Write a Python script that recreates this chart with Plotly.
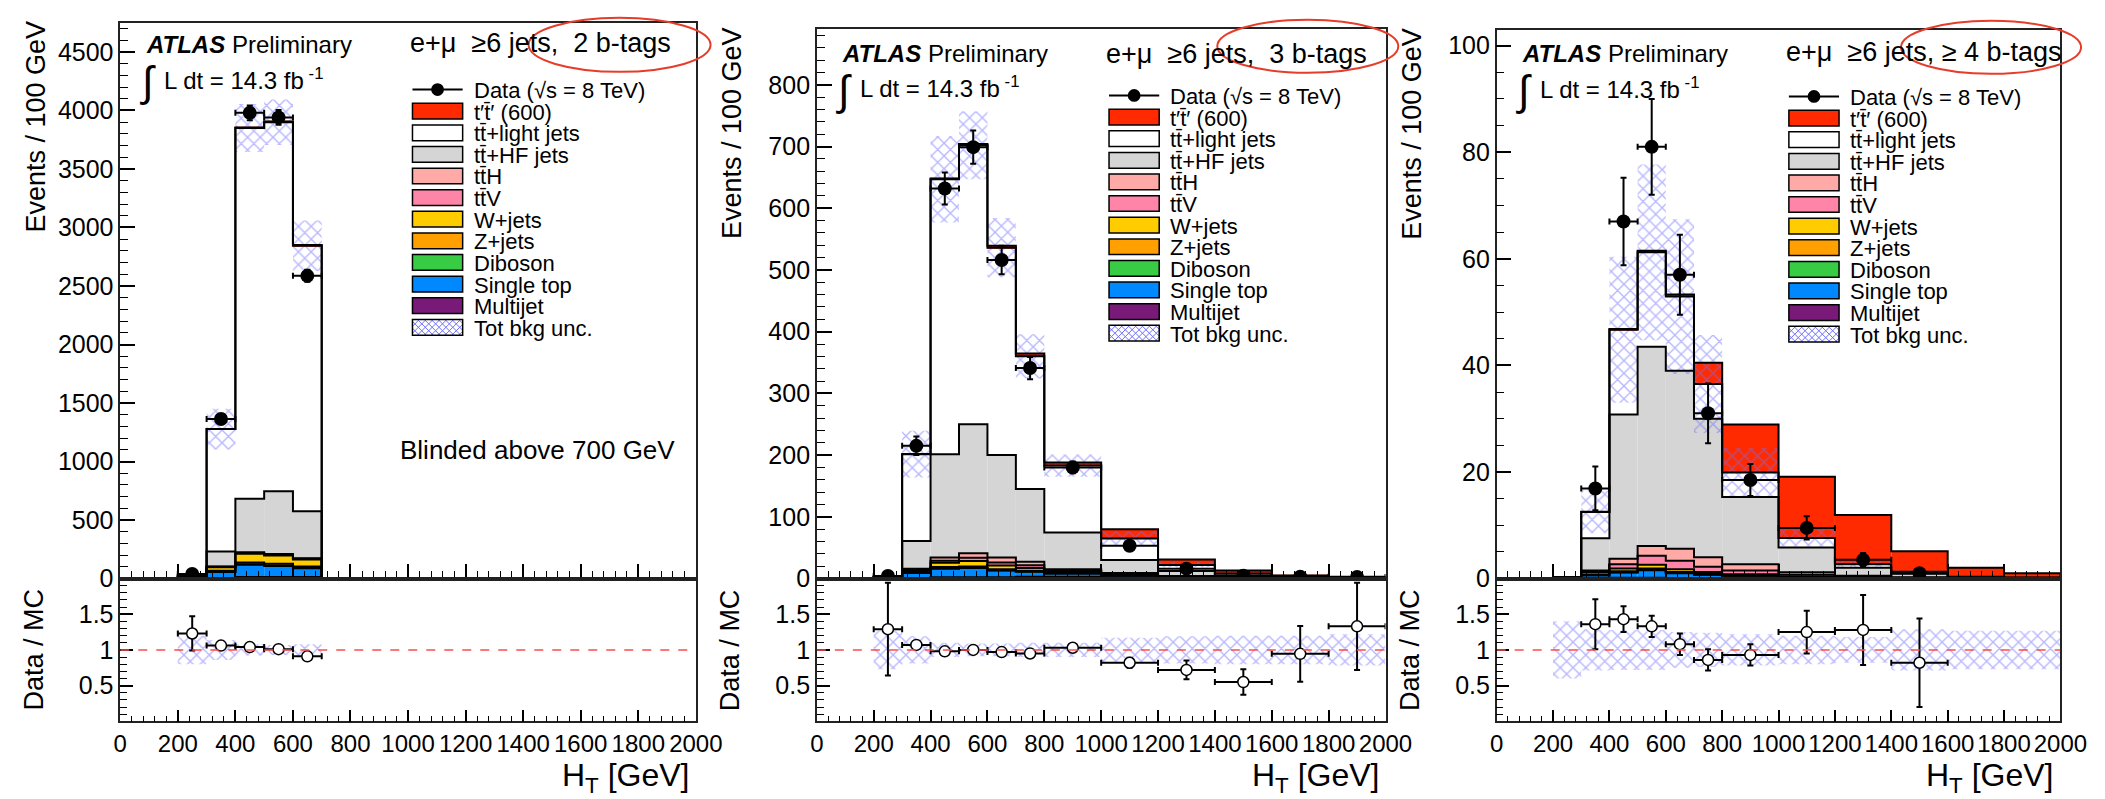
import plotly.graph_objects as go

W, H = 2105, 799
FONT = "Liberation Sans"

# ---------------- data (events / 100 GeV) ----------------
edges_2b = [200, 300, 400, 500, 600, 700]
edges_3b = [200, 300, 400, 500, 600, 700, 800, 1000, 1200, 1400, 1600, 1800, 2000]
edges_4b = [200, 300, 400, 500, 600, 700, 800, 1000, 1200, 1400, 1600, 1800, 2000]

# 2 b-tags
multijet_2b = [1, 5, 12, 12, 12]
singletop_2b = [6, 50, 105, 95, 75]
diboson_2b = [0.5, 2, 4, 4, 3]
zjets_2b = [1, 10, 16, 16, 13]
wjets_2b = [3, 30, 75, 70, 60]
ttv_2b = [0.3, 3, 7, 7, 6]
tth_2b = [0.2, 2, 5, 5, 4]
tthf_2b = [10, 130, 458, 537, 403]
ttlight_2b = [10, 1045, 3169, 3154, 2268]
tprime_2b = [0, 1, 3, 5, 6]
unc_2b = [7, 175, 205, 195, 215]
data_2b = [39, 1364, 3980, 3941, 2587]
data_err_2b = [6, 37, 63, 63, 51]
ratio_2b = [1.23, 1.06, 1.04, 1.01, 0.91]
ratio_err_2b = [0.24, 0.03, 0.02, 0.02, 0.02]
ratio_unc_2b = [0.2, 0.14, 0.08, 0.07, 0.08]

# 3 b-tags
multijet_3b = [0.2, 1, 2, 2, 2, 3, 3, 2, 1, 0.4, 0.2, 0.1]
singletop_3b = [0.8, 8, 14, 15, 11, 8, 5, 3, 1.2, 0.6, 0.3, 0.2]
diboson_3b = [0.05, 0.3, 0.5, 0.5, 0.4, 0.3, 0.2, 0.1, 0.05, 0.02, 0.01, 0.01]
zjets_3b = [0.1, 1.2, 2, 2, 1.6, 1.2, 0.8, 0.4, 0.2, 0.1, 0.05, 0.03]
wjets_3b = [0.25, 3.5, 7, 9, 6, 4.5, 2.5, 1.2, 0.5, 0.3, 0.15, 0.1]
ttv_3b = [0.05, 1, 3.5, 5, 5, 4.5, 1.8, 1, 0.5, 0.25, 0.1, 0.06]
tth_3b = [0.05, 1, 5, 7.5, 8, 5.5, 1.7, 1.3, 0.55, 0.33, 0.19, 0.1]
tthf_3b = [1.0, 45, 167.5, 209, 166, 118, 59.5, 21, 8, 3, 1.2, 0.7]
ttlight_3b = [0.6, 140.5, 445.5, 452, 336, 215, 108.5, 35, 10, 3.2, 0.9, 0.55]
tprime_3b = [0.02, 0.3, 1, 2, 3, 4.5, 5, 15, 9, 5, 2, 1]
unc_3b = [0.8, 38, 70, 55, 48, 36, 18, 11, 4.2, 1.6, 0.6, 0.4]
data_3b = [4, 215, 632, 699, 516, 341, 180, 53, 16, 4.5, 3, 2.5]
data_err_3b = [2, 15, 26, 27, 23, 18, 9.5, 5.1, 2.8, 1.5, 1.2, 1.1]
ratio_3b = [1.29, 1.07, 0.98, 1.0, 0.97, 0.95, 1.03, 0.82, 0.72, 0.55, 0.945, 1.33]
ratio_err_3b = [0.65, 0.05, 0.04, 0.04, 0.04, 0.05, 0.05, 0.07, 0.13, 0.18, 0.39, 0.61]
ratio_unc_3b = [0.27, 0.19, 0.1, 0.09, 0.09, 0.1, 0.1, 0.17, 0.19, 0.2, 0.2, 0.22]

# >= 4 b-tags
multijet_4b = [0.01, 0.1, 0.15, 0.15, 0.1, 0.1, 0.1, 0.05, 0.02, 0.01, 0, 0]
singletop_4b = [0.04, 0.5, 1.0, 1.4, 0.9, 0.6, 0.4, 0.2, 0.08, 0.04, 0.01, 0.01]
diboson_4b = [0, 0.02, 0.03, 0.04, 0.03, 0.02, 0.01, 0.01, 0, 0, 0, 0]
zjets_4b = [0.01, 0.15, 0.2, 0.3, 0.2, 0.15, 0.1, 0.04, 0.02, 0.01, 0, 0]
wjets_4b = [0.02, 0.4, 0.5, 0.7, 0.5, 0.35, 0.2, 0.1, 0.05, 0.02, 0.01, 0]
ttv_4b = [0.01, 0.15, 0.8, 1.7, 1.6, 1.0, 0.7, 0.3, 0.13, 0.06, 0.01, 0.01]
tth_4b = [0.01, 0.18, 1.02, 1.81, 2.27, 1.78, 1.19, 0.5, 0.2, 0.11, 0.02, 0.01]
tthf_4b = [0.1, 6.05, 27.1, 37.4, 33.4, 26, 12.6, 4.6, 1.5, 0.65, 0.2, 0.12]
ttlight_4b = [0.1, 4.95, 15.9, 17.7, 13.9, 6.5, 4.6, 1.8, 0.7, 0.35, 0.1, 0.05]
tprime_4b = [0, 0.02, 0.1, 0.3, 0.4, 4, 9, 11.5, 9.2, 3.85, 1.65, 0.8]
unc_4b = [0.12, 4.0, 13.7, 16.5, 14.5, 9.2, 4.6, 1.6, 0.5, 0.36, 0.1, 0.05]
data_4b = [None, 16.9, 67, 81, 57, 31, 18.5, 9.5, 3.5, 1.0, None, None]
data_err_4b = [0, 4.1, 8.2, 9, 7.5, 5.6, 3, 2.2, 1.3, 0.7, 0, 0]
ratio_4b = [None, 1.36, 1.43, 1.33, 1.08, 0.86, 0.93, 1.25, 1.28, 0.82, None, None]
ratio_err_4b = [0, 0.35, 0.18, 0.15, 0.15, 0.15, 0.15, 0.3, 0.49, 0.62, 0, 0]
ratio_unc_4b = [0.4, 0.29, 0.28, 0.28, 0.25, 0.24, 0.22, 0.2, 0.18, 0.29, 0.27, 0.27]

x_tick_vals = [0, 200, 400, 600, 800, 1000, 1200, 1400, 1600, 1800, 2000]
x_tick_text = ['0', '200', '400', '600', '800', '1000', '1200', '1400', '1600', '1800', '2000']
ratio_tick_vals = [0.5, 1, 1.5]
ratio_tick_text = ['0.5', '1', '1.5']

channel_labels = ["e+\u03bc\u00a0\u00a0\u22656 jets,\u00a0\u00a02 b-tags",
                  "e+\u03bc\u00a0\u00a0\u22656 jets,\u00a0\u00a03 b-tags",
                  "e+\u03bc\u00a0\u00a0\u22656 jets,\u00a0\u2265 4 b-tags"]
legend_labels = ["Data (\u221as = 8 TeV)", "t\u2032t\u0304\u2032 (600)", "tt\u0304+light jets",
                 "tt\u0304+HF jets", "tt\u0304H", "tt\u0304V", "W+jets", "Z+jets", "Diboson",
                 "Single top", "Multijet", "Tot bkg unc."]

# ---------------- styles ----------------
# stacking order, bottom -> top
comp_colors = ['#7a1a78', '#0088ff', '#38cc44', '#ffa000', '#ffcc00',
               '#ff85a8', '#ffaaa6', '#d5d5d5', '#ffffff', '#ff2a00']
legend_colors = ['#ff2a00', '#ffffff', '#d5d5d5', '#ffaaa6', '#ff85a8',
                 '#ffcc00', '#ffa000', '#38cc44', '#0088ff', '#7a1a78']
HATCH = '#6f6fff'

panels = [
    dict(edges=edges_2b,
         comps=[multijet_2b, singletop_2b, diboson_2b, zjets_2b, wjets_2b, ttv_2b, tth_2b, tthf_2b, ttlight_2b, tprime_2b],
         unc=unc_2b, data=data_2b, derr=data_err_2b, ratio=ratio_2b, rerr=ratio_err_2b, runc=ratio_unc_2b,
         l=107, r=692, t=15, ymax=4750, dt=500, mdt=100,
         atl_dy=22, lumi_dy=57, int_dy=59.5, chan_dy=21),
    dict(edges=edges_3b,
         comps=[multijet_3b, singletop_3b, diboson_3b, zjets_3b, wjets_3b, ttv_3b, tth_3b, tthf_3b, ttlight_3b, tprime_3b],
         unc=unc_3b, data=data_3b, derr=data_err_3b, ratio=ratio_3b, rerr=ratio_err_3b, runc=ratio_unc_3b,
         l=815, r=1393, t=21, ymax=891, dt=100, mdt=20,
         atl_dy=25.5, lumi_dy=59, int_dy=63, chan_dy=25.5),
    dict(edges=edges_4b,
         comps=[multijet_4b, singletop_4b, diboson_4b, zjets_4b, wjets_4b, ttv_4b, tth_4b, tthf_4b, ttlight_4b, tprime_4b],
         unc=unc_4b, data=data_4b, derr=data_err_4b, ratio=ratio_4b, rerr=ratio_err_4b, runc=ratio_unc_4b,
         l=1506, r=2079, t=22, ymax=103, dt=20, mdt=5,
         atl_dy=24, lumi_dy=59.5, int_dy=62, chan_dy=23),
]
MAIN_BOT = 580.7
RATIO_BOT = 726


def px(x):
    return x / W


def py(y):
    return 1 - y / H


HATCH_PATTERN = dict(shape='x', fgcolor=HATCH, bgcolor='rgba(0,0,0,0)', size=9, solidity=0.28,
                     fillmode='overlay')

fig = go.Figure()
shapes = []
annotations = []
layout_axes = {}

for i, p in enumerate(panels):
    edges = p['edges']
    n = len(edges) - 1
    centers = [(edges[k] + edges[k + 1]) / 2 for k in range(n)]
    widths = [edges[k + 1] - edges[k] for k in range(n)]
    halfw = [w / 2 for w in widths]
    sfx_m = '' if i == 0 else str(i + 1)
    sfx_r = str(i + 4)
    xm, ym, xr, yr = 'x' + sfx_m, 'y' + sfx_m, 'x' + sfx_r, 'y' + sfx_r

    # ---- stacked histogram ----
    cum = [0.0] * n
    levels = []
    for comp, col in zip(p['comps'], comp_colors):
        fig.add_trace(go.Bar(x=centers, y=comp, base=list(cum), width=widths,
                             marker=dict(color=col, line=dict(width=0)),
                             xaxis=xm, yaxis=ym, hoverinfo='skip'))
        cum = [c + v for c, v in zip(cum, comp)]
        levels.append(list(cum))
    for lev in levels:
        fig.add_trace(go.Scatter(x=[edges[0]] + edges[:-1] + [edges[-1]], y=[0] + lev + [0],
                                 mode='lines', line=dict(color='black', width=2, shape='hv'),
                                 xaxis=xm, yaxis=ym, hoverinfo='skip'))
    total = levels[-2]
    fig.add_trace(go.Bar(x=centers, y=[2 * u for u in p['unc']],
                         base=[t - u for t, u in zip(total, p['unc'])], width=widths,
                         marker=dict(color='rgba(0,0,0,0)', line=dict(width=0), pattern=HATCH_PATTERN),
                         xaxis=xm, yaxis=ym, hoverinfo='skip'))
    fig.add_trace(go.Scatter(x=centers, y=p['data'], mode='markers',
                             marker=dict(color='black', size=14),
                             error_x=dict(type='data', array=halfw, color='black', thickness=2, width=3),
                             error_y=dict(type='data', array=p['derr'], color='black', thickness=2, width=3),
                             xaxis=xm, yaxis=ym, hoverinfo='skip'))

    # ---- ratio ----
    fig.add_trace(go.Bar(x=centers, y=[2 * u for u in p['runc']], base=[1 - u for u in p['runc']],
                         width=widths,
                         marker=dict(color='rgba(0,0,0,0)', line=dict(width=0), pattern=HATCH_PATTERN),
                         xaxis=xr, yaxis=yr, hoverinfo='skip'))
    shapes.append(dict(type='line', xref=xr, yref=yr, x0=0, x1=2000, y0=1, y1=1,
                       line=dict(color='#ff4c4c', width=1.5, dash='dash'), layer='above'))
    fig.add_trace(go.Scatter(x=centers, y=p['ratio'], mode='markers',
                             marker=dict(color='white', size=11, line=dict(color='black', width=1.5)),
                             error_x=dict(type='data', array=halfw, color='black', thickness=2, width=3),
                             error_y=dict(type='data', array=p['rerr'], color='black', thickness=2, width=3),
                             xaxis=xr, yaxis=yr, hoverinfo='skip'))

    # ---- axes ----
    l, r, t = p['l'], p['r'], p['t']
    dom_x = [px(l), px(r)]
    tickfont = dict(family=FONT, size=25, color='black')
    frame = dict(showline=True, linecolor='#222222', linewidth=1.5, mirror=True,
                 showgrid=False, zeroline=False)
    layout_axes['xaxis' + sfx_m] = dict(domain=dom_x, range=[0, 2000], anchor=ym, showticklabels=False,
                                        ticks='inside', tick0=0, dtick=200, ticklen=15, tickwidth=1.5,
                                        tickcolor='black',
                                        minor=dict(ticks='inside', dtick=40, ticklen=8, tickwidth=1,
                                                   tickcolor='black'), **frame)
    layout_axes['yaxis' + sfx_m] = dict(domain=[py(MAIN_BOT), py(t)], range=[0, p['ymax']], anchor=xm,
                                        ticks='inside', tick0=0, dtick=p['dt'], ticklen=15, tickwidth=1.5,
                                        tickcolor='black', tickfont=tickfont,
                                        minor=dict(ticks='inside', dtick=p['mdt'], ticklen=8, tickwidth=1,
                                                   tickcolor='black'), **frame)
    layout_axes['xaxis' + sfx_r] = dict(domain=dom_x, range=[0, 2000], anchor=yr,
                                        tickmode='array', tickvals=x_tick_vals, ticktext=x_tick_text,
                                        tickangle=0, ticks='inside', ticklen=12, tickwidth=1.5,
                                        tickcolor='black', tickfont=dict(family=FONT, size=24, color='black'),
                                        minor=dict(ticks='inside', tickmode='linear', tick0=0, dtick=40,
                                                   ticklen=6, tickwidth=1, tickcolor='black'), **frame)
    layout_axes['yaxis' + sfx_r] = dict(domain=[py(RATIO_BOT), py(MAIN_BOT)], range=[0, 2], anchor=xr,
                                        tickmode='array', tickvals=ratio_tick_vals, ticktext=ratio_tick_text,
                                        ticks='inside', ticklen=13, tickwidth=1.5, tickcolor='black',
                                        tickfont=tickfont,
                                        minor=dict(ticks='inside', tickmode='linear', tick0=0, dtick=0.1,
                                                   ticklen=7, tickwidth=1, tickcolor='black'), **frame)

    # ---- axis titles ----
    annotations.append(dict(xref='paper', yref='paper', x=px(l - 86), y=py(t + 106),
                            text='Events / 100 GeV', textangle=-90, showarrow=False,
                            xanchor='center', yanchor='middle', font=dict(family=FONT, size=27, color='black')))
    annotations.append(dict(xref='paper', yref='paper', x=px(l - 88), y=py((MAIN_BOT + RATIO_BOT) / 2),
                            text='Data / MC', textangle=-90, showarrow=False,
                            xanchor='center', yanchor='middle', font=dict(family=FONT, size=27, color='black')))
    annotations.append(dict(xref='paper', yref='paper', x=px(r - 4), y=py(783),
                            text='H<sub>T</sub> [GeV]', showarrow=False,
                            xanchor='right', yanchor='middle', font=dict(family=FONT, size=32, color='black')))

    # ---- labels ----
    annotations.append(dict(xref='paper', yref='paper', x=px(l + 24), y=py(t + p['atl_dy']),
                            text='<b><i>ATLAS</i></b> Preliminary', showarrow=False,
                            xanchor='left', yanchor='middle', font=dict(family=FONT, size=24, color='black')))
    annotations.append(dict(xref='paper', yref='paper', x=px(l + 28), y=py(t + p['int_dy']),
                            text='\u222b', showarrow=False,
                            xanchor='center', yanchor='middle', font=dict(family=FONT, size=42, color='black')))
    annotations.append(dict(xref='paper', yref='paper', x=px(l + 42), y=py(t + p['lumi_dy']),
                            text='L dt = 14.3 fb<sup> -1</sup>', showarrow=False,
                            xanchor='left', yanchor='middle', font=dict(family=FONT, size=24, color='black')))
    annotations.append(dict(xref='paper', yref='paper', x=px(l + 292), y=py(t + p['chan_dy']),
                            text=channel_labels[i], showarrow=False,
                            xanchor='left', yanchor='middle', font=dict(family=FONT, size=27, color='black')))

    # ---- legend ----
    lx = l + 297
    ly0 = t + 68
    pitch = 22
    for k, lab in enumerate(legend_labels):
        yc = ly0 + k * pitch
        annotations.append(dict(xref='paper', yref='paper', x=px(lx + 60), y=py(yc + 1),
                                text=lab, showarrow=False, xanchor='left', yanchor='middle',
                                font=dict(family=FONT, size=22, color='black')))
        if k == 0:
            shapes.append(dict(type='line', xref='paper', yref='paper', x0=px(lx), x1=px(lx + 51),
                               y0=py(yc), y1=py(yc), line=dict(color='black', width=2)))
            shapes.append(dict(type='circle', xref='paper', yref='paper', x0=px(lx + 19), x1=px(lx + 32),
                               y0=py(yc - 6.5), y1=py(yc + 6.5), fillcolor='black',
                               line=dict(color='black', width=0)))
            continue
        x0b, x1b, y0b, y1b = lx, lx + 51, yc - 8, yc + 8
        if k <= 10:
            shapes.append(dict(type='rect', xref='paper', yref='paper', x0=px(x0b), x1=px(x1b),
                               y0=py(y0b), y1=py(y1b), fillcolor=legend_colors[k - 1],
                               line=dict(color='black', width=1.5)))
        else:
            segs = []
            wbox, hbox, st = x1b - x0b, y1b - y0b, 7
            kk = -hbox
            while kk < wbox:
                xs, ys = x0b + max(kk, 0), y0b + max(-kk, 0)
                tt = min(x1b - xs, y1b - ys)
                segs.append(f"M{px(xs):.6f},{py(ys):.6f} L{px(xs + tt):.6f},{py(ys + tt):.6f}")
                kk += st
            kk = 0
            while kk < wbox + hbox:
                if kk <= wbox:
                    xs, ys = x0b + kk, y0b
                else:
                    xs, ys = x1b, y0b + (kk - wbox)
                tt = min(xs - x0b, y1b - ys)
                segs.append(f"M{px(xs):.6f},{py(ys):.6f} L{px(xs - tt):.6f},{py(ys + tt):.6f}")
                kk += st
            shapes.append(dict(type='path', xref='paper', yref='paper', path=' '.join(segs),
                               line=dict(color=HATCH, width=1)))
            shapes.append(dict(type='rect', xref='paper', yref='paper', x0=px(x0b), x1=px(x1b),
                               y0=py(y0b), y1=py(y1b), line=dict(color='black', width=1.5)))

annotations.append(dict(xref='paper', yref='paper', x=px(531), y=py(450),
                        text='Blinded above 700 GeV', showarrow=False,
                        xanchor='center', yanchor='middle', font=dict(family=FONT, size=26, color='black')))

# red ellipses
for (ex0, ex1, ey0, ey1) in [(522, 707, 10, 65), (1222, 1406, 12, 66), (1917, 2100, 13, 67)]:
    shapes.append(dict(type='circle', xref='paper', yref='paper', x0=px(ex0), x1=px(ex1),
                       y0=py(ey0), y1=py(ey1), line=dict(color='#e63c2a', width=2), layer='above'))

fig.update_layout(width=W, height=H, margin=dict(l=0, r=0, t=0, b=0),
                  paper_bgcolor='white', plot_bgcolor='white', barmode='overlay',
                  showlegend=False, shapes=shapes, annotations=annotations,
                  font=dict(family=FONT, color='black'), **layout_axes)

fig.write_html("out.html")
